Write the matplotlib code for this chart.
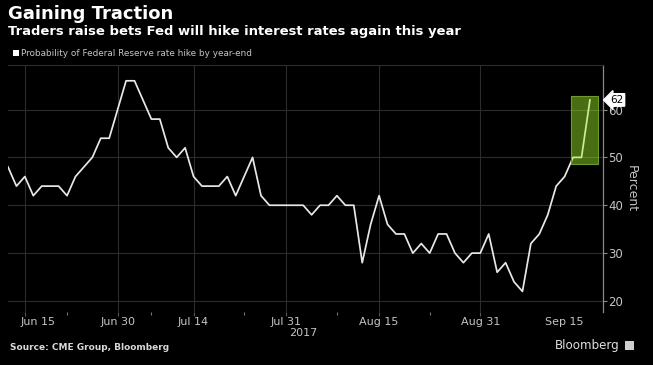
import matplotlib.pyplot as plt
import matplotlib.transforms as mtransforms
from matplotlib.patches import Rectangle
import numpy as np
import pandas as pd

# === Data ===
dates = pd.bdate_range("2017-06-13", "2017-09-20", freq="C",
                       holidays=["2017-07-04", "2017-09-04"])
prob = [48, 44, 46, 42, 44, 44, 44, 42, 46, 48,
        50, 54, 54, 60, 66, 66, 62, 58, 58, 52,
        50, 52, 46, 44, 44, 44, 46, 42, 46, 50,
        42, 40, 40, 40, 40, 40, 38, 40, 40, 42,
        40, 40, 28, 36, 42, 36, 34, 34, 30, 32,
        30, 34, 34, 30, 28, 30, 30, 34, 26, 28,
        24, 22, 32, 34, 38, 44, 46, 50, 50, 62]
tick_dates = ["2017-06-15", "2017-06-30", "2017-07-14", "2017-07-31",
              "2017-08-15", "2017-08-31", "2017-09-15"]
tick_labels = ["Jun 15", "Jun 30", "Jul 14", "Jul 31", "Aug 15", "Aug 31", "Sep 15"]
grid_dates = tick_dates[:-1]
minor_dates = ["2017-06-22", "2017-07-07", "2017-07-24", "2017-08-08", "2017-08-23"]
y_ticks = [20, 30, 40, 50, 60]
highlight_x = (66.7, 69.9)
highlight_y = (48.7, 62.9)
last_value = 62

x = np.arange(len(dates))
pos = {d: i for i, d in enumerate(dates.strftime("%Y-%m-%d"))}

bg = "black"
grid_c = "#2c2c2c"
text_c = "#c4c4c4"

fig = plt.figure(figsize=(6.53, 3.65), dpi=100, facecolor=bg)
ax = fig.add_axes([8 / 653, 1 - 312 / 365, 595 / 653, 247 / 365], facecolor=bg)

# grid
for v in y_ticks:
    ax.axhline(v, color=grid_c, lw=0.8, zorder=0)
for d in grid_dates:
    ax.axvline(pos[d], color=grid_c, lw=0.8, zorder=0)

# highlight box
ax.add_patch(Rectangle((highlight_x[0], highlight_y[0]),
                       highlight_x[1] - highlight_x[0],
                       highlight_y[1] - highlight_y[0],
                       facecolor="#a4f428", alpha=0.45, edgecolor="none", zorder=3))
ax.add_patch(Rectangle((highlight_x[0], highlight_y[0]),
                       highlight_x[1] - highlight_x[0],
                       highlight_y[1] - highlight_y[0],
                       facecolor="none", edgecolor="#6e9c2a", lw=0.8, zorder=4))

ax.plot(x, prob, color="#e8e8e8", lw=1.25, zorder=2)

ax.set_xlim(0, 70.55)
ax.set_ylim(17.7, 69.3)

# axes styling
for s in ["left", "bottom"]:
    ax.spines[s].set_visible(False)
ax.spines["top"].set_color(grid_c)
ax.spines["right"].set_color("#8a8a8a")
ax.spines["right"].set_linewidth(0.9)

ax.yaxis.tick_right()
ax.set_yticks(y_ticks)
ax.set_yticklabels([str(v) for v in y_ticks])
ax.tick_params(axis="y", colors="#8a8a8a", labelcolor=text_c, labelsize=8.5,
               length=3, width=0.8, pad=1)

ax.set_xticks([pos[d] for d in tick_dates])
ax.set_xticklabels(tick_labels)
ax.set_xticks([pos[d] for d in minor_dates], minor=True)
ax.tick_params(axis="x", which="major", colors="#555555", labelcolor=text_c,
               labelsize=8, length=3, width=0.8, pad=0.5)
ax.tick_params(axis="x", which="minor", colors="#777777", length=2, width=0.8)
ax.xaxis.get_major_ticks()[-1].tick1line.set_visible(False)

# first label sits right of its tick so it is not clipped
first = ax.get_xticklabels()[0]
first.set_horizontalalignment("left")
first.set_transform(first.get_transform() +
                    mtransforms.ScaledTranslation(-4.5 / 100, 0, fig.dpi_scale_trans))

ax.text(pos["2017-07-31"] + 3.7, -0.085, "2017",
        transform=mtransforms.blended_transform_factory(ax.transData, ax.transAxes),
        color=text_c, fontsize=8, ha="right", va="center")

ax.text(1.047, 0.5, "Percent", transform=ax.transAxes, rotation=270,
        color=text_c, fontsize=9, ha="center", va="center")

# last value label
trans = mtransforms.blended_transform_factory(ax.transAxes, ax.transData)
ax.text(1.012, last_value, str(last_value), transform=trans, color="black",
        fontsize=7.5, ha="left", va="center", zorder=10,
        bbox=dict(boxstyle="larrow,pad=0.12", facecolor="white", edgecolor="white"))

# titles
fig.text(8 / 653, 1 - 14 / 365, "Gaining Traction", color="white", fontsize=13,
         fontweight="bold", ha="left", va="center")
fig.text(8 / 653, 1 - 32 / 365, "Traders raise bets Fed will hike interest rates again this year",
         color="white", fontsize=9.45, fontweight="bold", ha="left", va="center")
fig.patches.append(Rectangle((13 / 653, 1 - 56 / 365), 6 / 653, 6 / 365,
                             transform=fig.transFigure, facecolor="white",
                             edgecolor="none"))
fig.text(21 / 653, 1 - 53 / 365, "Probability of Federal Reserve rate hike by year-end",
         color=text_c, fontsize=6.4, ha="left", va="center")

fig.text(10 / 653, 1 - 347 / 365, "Source: CME Group, Bloomberg", color="#d8d8d8",
         fontsize=6.5, fontweight="bold", ha="left", va="center")
fig.text(620 / 653, 1 - 345 / 365, "Bloomberg", color="#e0e0e0",
         fontsize=8.6, ha="right", va="center")
fig.patches.append(Rectangle((625 / 653, 1 - 350 / 365), 9 / 653, 9 / 365,
                             transform=fig.transFigure, facecolor="#cfcfcf",
                             edgecolor="none"))

fig.savefig("out.png", dpi=100, facecolor=bg)
